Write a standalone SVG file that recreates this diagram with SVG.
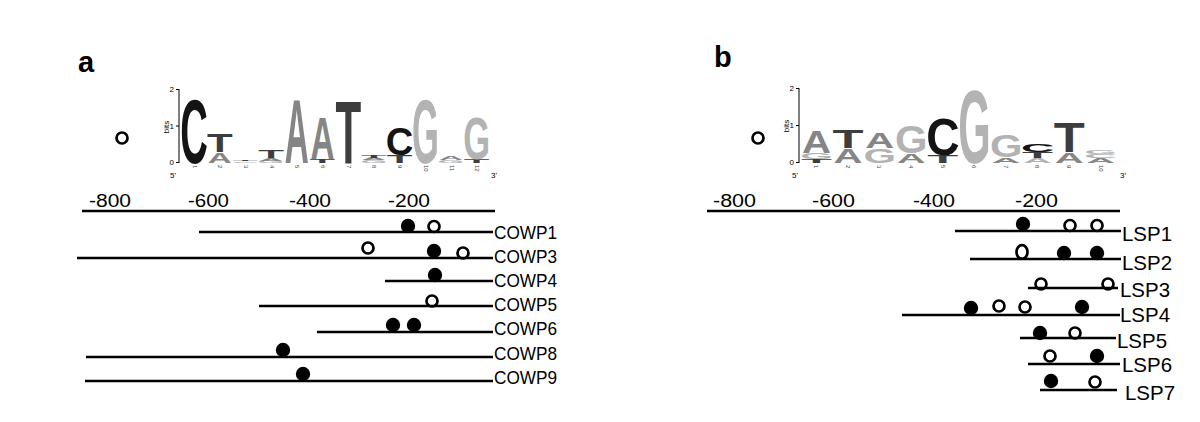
<svg xmlns="http://www.w3.org/2000/svg" width="1200" height="422" viewBox="0 0 1200 422">
<style>
.bg{fill:#fff}
.ln{stroke:#000;stroke-width:2.5;fill:none}
.f{fill:#000}
.o{fill:none;stroke:#000;stroke-width:2.7}
.t{font-family:"Liberation Sans",Arial,sans-serif;fill:#000}
.lb{font-family:"Liberation Sans",Arial,sans-serif;font-size:19px;fill:#000}
.ls{font-family:"Liberation Sans",Arial,sans-serif;font-size:21px;fill:#000}
.tk{font-family:"Liberation Sans",Arial,sans-serif;font-size:18px;fill:#000}
.pn{font-family:"Liberation Sans",Arial,sans-serif;font-size:29px;font-weight:bold;fill:#000}
.L{font-family:"Liberation Sans",Arial,sans-serif;font-weight:bold}
.cC{fill:#141414}.cT{fill:#3d3d3d}.cA{fill:#858585}.cG{fill:#b3b3b3}
.sm{font-family:"Liberation Sans",Arial,sans-serif;font-size:8px;fill:#000}
.xs{font-family:"Liberation Sans",Arial,sans-serif;font-size:6px;fill:#444}
.ax{stroke:#000;stroke-width:1;fill:none}
</style>
<rect class="bg" x="0" y="0" width="1200" height="422"/>

<g id="panel-a-label"><text class="pn" x="78" y="72">a</text></g>
<g id="panel-b-label"><text class="pn" x="714" y="67">b</text></g>

<g id="legend-a"><circle class="o" cx="122" cy="138" r="5.5"/></g>
<g id="legend-b"><circle class="o" cx="758" cy="138" r="5.5"/></g>

<g id="logo-a">
  <path class="ax" d="M179,89 V163 M176,89.5 H179 M176,126 H179 M176,162.5 H179"/>
  <text class="sm" x="174" y="92" text-anchor="end">2</text>
  <text class="sm" x="174" y="129" text-anchor="end">1</text>
  <text class="sm" x="174" y="165" text-anchor="end">0</text>
  <text class="sm" transform="translate(169,127) rotate(-90)" text-anchor="middle" font-size="7">bits</text>
  <text class="sm" x="170" y="178" font-size="7">5'</text>
  <text class="sm" x="491" y="178" font-size="7">3'</text>
  <text class="L cC" x="180.2" y="162.5" font-size="90.1" textLength="27.6" lengthAdjust="spacingAndGlyphs">C</text>
  <text class="L cA" x="207.7" y="162.5" font-size="14.7" textLength="24" lengthAdjust="spacingAndGlyphs">A</text>
  <text class="L cT" x="206.9" y="152" font-size="25.1" textLength="25.7" lengthAdjust="spacingAndGlyphs">T</text>
  <text class="L cG" x="232" y="162.5" font-size="2.1" textLength="26.9" lengthAdjust="spacingAndGlyphs">G</text>
  <text class="L cT" x="232.6" y="161" font-size="1.6" textLength="25.7" lengthAdjust="spacingAndGlyphs">T</text>
  <text class="L cG" x="257.7" y="162.5" font-size="2.8" textLength="26.9" lengthAdjust="spacingAndGlyphs">G</text>
  <text class="L cA" x="259.1" y="160.5" font-size="3.5" textLength="24" lengthAdjust="spacingAndGlyphs">A</text>
  <text class="L cT" x="258.3" y="158" font-size="11.2" textLength="25.7" lengthAdjust="spacingAndGlyphs">T</text>
  <text class="L cA" x="284.8" y="162.5" font-size="90.1" textLength="24" lengthAdjust="spacingAndGlyphs">A</text>
  <text class="L cT" x="309.7" y="162.5" font-size="4.9" textLength="25.7" lengthAdjust="spacingAndGlyphs">T</text>
  <text class="L cA" x="310.5" y="159" font-size="60.1" textLength="24" lengthAdjust="spacingAndGlyphs">A</text>
  <text class="L cT" x="335.4" y="162.5" font-size="88.7" textLength="25.7" lengthAdjust="spacingAndGlyphs">T</text>
  <text class="L cG" x="360.5" y="162.5" font-size="3.5" textLength="26.9" lengthAdjust="spacingAndGlyphs">G</text>
  <text class="L cA" x="361.9" y="160" font-size="2.8" textLength="24" lengthAdjust="spacingAndGlyphs">A</text>
  <text class="L cT" x="361.1" y="158" font-size="4.2" textLength="25.7" lengthAdjust="spacingAndGlyphs">T</text>
  <text class="L cT" x="386.8" y="162.5" font-size="10.5" textLength="25.7" lengthAdjust="spacingAndGlyphs">T</text>
  <text class="L cC" x="385.8" y="155" font-size="39.1" textLength="27.6" lengthAdjust="spacingAndGlyphs">C</text>
  <text class="L cG" x="411.9" y="162.5" font-size="90.1" textLength="26.9" lengthAdjust="spacingAndGlyphs">G</text>
  <text class="L cG" x="437.6" y="162.5" font-size="3.5" textLength="26.9" lengthAdjust="spacingAndGlyphs">G</text>
  <text class="L cA" x="439" y="160" font-size="5.6" textLength="24" lengthAdjust="spacingAndGlyphs">A</text>
  <text class="L cT" x="463.9" y="162.5" font-size="4.9" textLength="25.7" lengthAdjust="spacingAndGlyphs">T</text>
  <text class="L cG" x="463.3" y="159" font-size="60.1" textLength="26.9" lengthAdjust="spacingAndGlyphs">G</text>
  <text class="xs" transform="translate(193,165) rotate(90)">1</text>
  <text class="xs" transform="translate(218,165) rotate(90)">2</text>
  <text class="xs" transform="translate(244,165) rotate(90)">3</text>
  <text class="xs" transform="translate(270,165) rotate(90)">4</text>
  <text class="xs" transform="translate(295,165) rotate(90)">5</text>
  <text class="xs" transform="translate(321,165) rotate(90)">6</text>
  <text class="xs" transform="translate(347,165) rotate(90)">7</text>
  <text class="xs" transform="translate(372,165) rotate(90)">8</text>
  <text class="xs" transform="translate(398,165) rotate(90)">9</text>
  <text class="xs" transform="translate(424,165) rotate(90)">10</text>
  <text class="xs" transform="translate(450,165) rotate(90)">11</text>
  <text class="xs" transform="translate(475,165) rotate(90)">12</text>
</g>

<g id="logo-b">
  <path class="ax" d="M799,88 V163 M796,88.5 H799 M796,125.5 H799 M796,162.5 H799"/>
  <text class="sm" x="794" y="91" text-anchor="end">2</text>
  <text class="sm" x="794" y="128" text-anchor="end">1</text>
  <text class="sm" x="794" y="165" text-anchor="end">0</text>
  <text class="sm" transform="translate(789,126) rotate(-90)" text-anchor="middle" font-size="7">bits</text>
  <text class="sm" x="792" y="178" font-size="7">5'</text>
  <text class="sm" x="1120" y="178" font-size="7">3'</text>
  <text class="L cT" x="801" y="162.5" font-size="4.9" textLength="31" lengthAdjust="spacingAndGlyphs">T</text>
  <text class="L cG" x="800.3" y="159" font-size="8.4" textLength="32.5" lengthAdjust="spacingAndGlyphs">G</text>
  <text class="L cA" x="802" y="153" font-size="32.1" textLength="29" lengthAdjust="spacingAndGlyphs">A</text>
  <text class="L cA" x="833.6" y="162.5" font-size="20.3" textLength="29" lengthAdjust="spacingAndGlyphs">A</text>
  <text class="L cT" x="832.6" y="148" font-size="25.1" textLength="31" lengthAdjust="spacingAndGlyphs">T</text>
  <text class="L cG" x="863.5" y="162.5" font-size="20.3" textLength="32.5" lengthAdjust="spacingAndGlyphs">G</text>
  <text class="L cA" x="865.2" y="148" font-size="22.3" textLength="29" lengthAdjust="spacingAndGlyphs">A</text>
  <text class="L cA" x="896.8" y="162.5" font-size="13.3" textLength="29" lengthAdjust="spacingAndGlyphs">A</text>
  <text class="L cG" x="895.1" y="153" font-size="39.1" textLength="32.5" lengthAdjust="spacingAndGlyphs">G</text>
  <text class="L cT" x="927.4" y="162.5" font-size="10.5" textLength="31" lengthAdjust="spacingAndGlyphs">T</text>
  <text class="L cC" x="926.2" y="155" font-size="51.7" textLength="33.4" lengthAdjust="spacingAndGlyphs">C</text>
  <text class="L cG" x="958.3" y="162.5" font-size="104" textLength="32.5" lengthAdjust="spacingAndGlyphs">G</text>
  <text class="L cA" x="991.6" y="162.5" font-size="7.7" textLength="29" lengthAdjust="spacingAndGlyphs">A</text>
  <text class="L cG" x="989.9" y="157" font-size="32.1" textLength="32.5" lengthAdjust="spacingAndGlyphs">G</text>
  <text class="L cG" x="1023.2" y="162.5" font-size="6.3" textLength="29" lengthAdjust="spacingAndGlyphs">A</text>
  <text class="L cT" x="1022.2" y="158" font-size="8.4" textLength="31" lengthAdjust="spacingAndGlyphs">T</text>
  <text class="L cC" x="1021" y="152" font-size="11.2" textLength="33.4" lengthAdjust="spacingAndGlyphs">C</text>
  <text class="L cA" x="1054.8" y="162.5" font-size="14.7" textLength="29" lengthAdjust="spacingAndGlyphs">A</text>
  <text class="L cT" x="1053.8" y="152" font-size="41.9" textLength="31" lengthAdjust="spacingAndGlyphs">T</text>
  <text class="L cA" x="1086.4" y="162.5" font-size="6.3" textLength="29" lengthAdjust="spacingAndGlyphs">A</text>
  <text class="L cG" x="1084.2" y="158" font-size="5.6" textLength="33.4" lengthAdjust="spacingAndGlyphs">C</text>
  <text class="L cG" x="1084.7" y="154" font-size="5.6" textLength="32.5" lengthAdjust="spacingAndGlyphs">G</text>
  <text class="xs" transform="translate(814,165) rotate(90)">1</text>
  <text class="xs" transform="translate(846,165) rotate(90)">2</text>
  <text class="xs" transform="translate(877,165) rotate(90)">3</text>
  <text class="xs" transform="translate(909,165) rotate(90)">4</text>
  <text class="xs" transform="translate(941,165) rotate(90)">5</text>
  <text class="xs" transform="translate(972,165) rotate(90)">6</text>
  <text class="xs" transform="translate(1004,165) rotate(90)">7</text>
  <text class="xs" transform="translate(1035,165) rotate(90)">8</text>
  <text class="xs" transform="translate(1067,165) rotate(90)">9</text>
  <text class="xs" transform="translate(1099,165) rotate(90)">10</text>
</g>

<g id="connectors">
  <line class="ln" x1="82" y1="211" x2="495" y2="211"/>
  <line class="ln" x1="707" y1="211" x2="1120" y2="211"/>
</g>

<g id="scale-a">
  <text class="tk" x="89" y="207" textLength="42" lengthAdjust="spacingAndGlyphs">-800</text>
  <text class="tk" x="188" y="207" textLength="41" lengthAdjust="spacingAndGlyphs">-600</text>
  <text class="tk" x="289" y="207" textLength="42" lengthAdjust="spacingAndGlyphs">-400</text>
  <text class="tk" x="388" y="207" textLength="42" lengthAdjust="spacingAndGlyphs">-200</text>
</g>
<g id="scale-b">
  <text class="tk" x="713" y="207" textLength="43" lengthAdjust="spacingAndGlyphs">-800</text>
  <text class="tk" x="812" y="207" textLength="43" lengthAdjust="spacingAndGlyphs">-600</text>
  <text class="tk" x="913" y="207" textLength="42" lengthAdjust="spacingAndGlyphs">-400</text>
  <text class="tk" x="1015" y="207" textLength="43" lengthAdjust="spacingAndGlyphs">-200</text>
</g>

<g id="COWP1">
  <line class="ln" x1="199" y1="232" x2="493" y2="232"/>
  <circle class="f" cx="408" cy="226" r="7.2"/>
  <circle class="o" cx="434" cy="226.5" r="5.5"/>
  <text class="lb" x="494" y="239" textLength="63" lengthAdjust="spacingAndGlyphs">COWP1</text>
</g>
<g id="COWP3">
  <line class="ln" x1="77" y1="258" x2="493" y2="258"/>
  <circle class="o" cx="368" cy="248" r="5.5"/>
  <circle class="f" cx="434" cy="251" r="7.2"/>
  <circle class="o" cx="463" cy="253" r="5.5"/>
  <text class="lb" x="494" y="263" textLength="63" lengthAdjust="spacingAndGlyphs">COWP3</text>
</g>
<g id="COWP4">
  <line class="ln" x1="385" y1="281" x2="493" y2="281"/>
  <circle class="f" cx="435" cy="275" r="7.2"/>
  <text class="lb" x="494" y="287" textLength="63" lengthAdjust="spacingAndGlyphs">COWP4</text>
</g>
<g id="COWP5">
  <line class="ln" x1="259" y1="306" x2="493" y2="306"/>
  <circle class="o" cx="432" cy="301" r="5.5"/>
  <text class="lb" x="494" y="311" textLength="63" lengthAdjust="spacingAndGlyphs">COWP5</text>
</g>
<g id="COWP6">
  <line class="ln" x1="317" y1="332" x2="493" y2="332"/>
  <circle class="f" cx="393" cy="325" r="7.2"/>
  <circle class="f" cx="414" cy="325" r="7.2"/>
  <text class="lb" x="494" y="335" textLength="63" lengthAdjust="spacingAndGlyphs">COWP6</text>
</g>
<g id="COWP8">
  <line class="ln" x1="86" y1="357" x2="493" y2="357"/>
  <circle class="f" cx="283" cy="350" r="7.2"/>
  <text class="lb" x="494" y="360" textLength="63" lengthAdjust="spacingAndGlyphs">COWP8</text>
</g>
<g id="COWP9">
  <line class="ln" x1="85" y1="381" x2="493" y2="381"/>
  <circle class="f" cx="303" cy="374" r="7.2"/>
  <text class="lb" x="494" y="384" textLength="63" lengthAdjust="spacingAndGlyphs">COWP9</text>
</g>

<g id="LSP1">
  <line class="ln" x1="955" y1="231" x2="1121" y2="231"/>
  <circle class="f" cx="1023" cy="224" r="7.2"/>
  <circle class="o" cx="1070" cy="225.5" r="5.5"/>
  <circle class="o" cx="1097" cy="225.5" r="5.5"/>
  <text class="ls" x="1122" y="241" textLength="50" lengthAdjust="spacingAndGlyphs">LSP1</text>
</g>
<g id="LSP2">
  <line class="ln" x1="970" y1="259" x2="1121" y2="259"/>
  <ellipse class="o" cx="1022" cy="252" rx="5.5" ry="6.8"/>
  <circle class="f" cx="1064" cy="253" r="7.2"/>
  <circle class="f" cx="1097" cy="253" r="7.2"/>
  <text class="ls" x="1122" y="270" textLength="50" lengthAdjust="spacingAndGlyphs">LSP2</text>
</g>
<g id="LSP3">
  <line class="ln" x1="1028" y1="288" x2="1118" y2="288"/>
  <circle class="o" cx="1041" cy="284" r="5.5"/>
  <circle class="o" cx="1108" cy="284" r="5.5"/>
  <text class="ls" x="1120" y="297" textLength="50" lengthAdjust="spacingAndGlyphs">LSP3</text>
</g>
<g id="LSP4">
  <line class="ln" x1="902" y1="315" x2="1120" y2="315"/>
  <circle class="f" cx="971" cy="308" r="7.2"/>
  <circle class="o" cx="999" cy="306" r="5.5"/>
  <circle class="o" cx="1025" cy="307" r="5.5"/>
  <circle class="f" cx="1082" cy="307" r="7.2"/>
  <text class="ls" x="1120" y="322" textLength="50" lengthAdjust="spacingAndGlyphs">LSP4</text>
</g>
<g id="LSP5">
  <line class="ln" x1="1020" y1="338" x2="1116" y2="338"/>
  <circle class="f" cx="1040" cy="333" r="7.2"/>
  <circle class="o" cx="1075" cy="333" r="5.5"/>
  <text class="ls" x="1117" y="348" textLength="50" lengthAdjust="spacingAndGlyphs">LSP5</text>
</g>
<g id="LSP6">
  <line class="ln" x1="1028" y1="364" x2="1120" y2="364"/>
  <circle class="o" cx="1050" cy="356" r="5.5"/>
  <circle class="f" cx="1097" cy="356" r="7.2"/>
  <text class="ls" x="1122" y="372" textLength="50" lengthAdjust="spacingAndGlyphs">LSP6</text>
</g>
<g id="LSP7">
  <line class="ln" x1="1040" y1="390" x2="1117" y2="390"/>
  <circle class="f" cx="1051" cy="381" r="7.2"/>
  <circle class="o" cx="1095" cy="382" r="5.5"/>
  <text class="ls" x="1125" y="400" textLength="50" lengthAdjust="spacingAndGlyphs">LSP7</text>
</g>
</svg>
